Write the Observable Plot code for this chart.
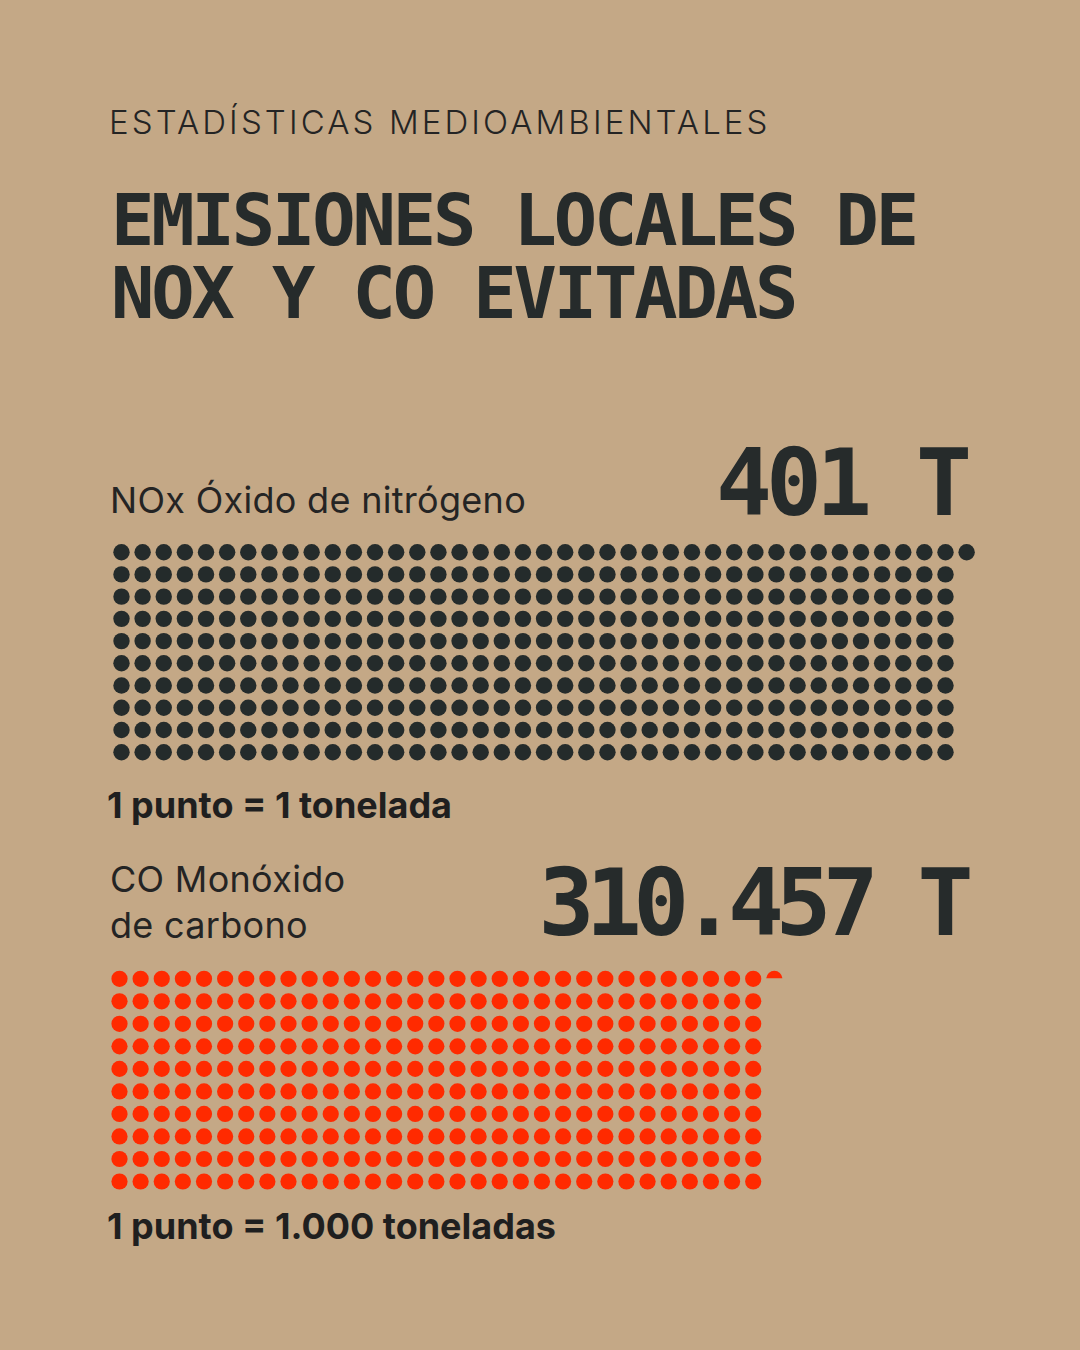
<!DOCTYPE html>
<html>
<head>
<meta charset="utf-8">
<script src="https://cdn.jsdelivr.net/npm/d3@7"></script>
<script src="https://cdn.jsdelivr.net/npm/@observablehq/plot@0.6"></script>
<style>
  html, body { margin: 0; padding: 0; }
  body { width: 1080px; height: 1350px; background: #c4a886; position: relative; overflow: hidden; }
  .abs { position: absolute; white-space: nowrap; color: #242424; }
  .kicker { font-family: Inter, "Open Sans", sans-serif; font-weight: 300; font-size: 33px; line-height: 33px; letter-spacing: 3.1px; }
  .title { font-family: "DejaVu Sans Mono", monospace; font-weight: 700; font-size: 72px; line-height: 73px; letter-spacing: -3.1px; color: #262b2b; }
  .label { font-family: Inter, "Open Sans", sans-serif; font-weight: 400; font-size: 36px; line-height: 46px; letter-spacing: 0.3px; }
  .big { font-family: "DejaVu Sans Mono", monospace; font-weight: 700; font-size: 93px; line-height: 93px; color: #262b2b; text-align: right; }
  .unit { font-family: Inter, "Open Sans", sans-serif; font-weight: 700; font-size: 36px; line-height: 36px; letter-spacing: 0px; color: #1f1f1f; }
  .plot { position: absolute; left: 0; }
</style>
</head>
<body>
<script>
// ---- Data ----
const kicker = "ESTADÍSTICAS MEDIOAMBIENTALES";
const titleLines = ["EMISIONES LOCALES DE", "NOX Y CO EVITADAS"];
const categories = ["NOx Óxido de nitrógeno", "CO Monóxido\nde carbono"];
const valueLabels = ["401 T", "310.457 T"];
const tonnes = [401, 310457];
const tonnesPerDot = [1, 1000];
const unitLabels = ["1 punto = 1 tonelada", "1 punto = 1.000 toneladas"];
const gridColumns = [40, 31];
const gridRows = [10, 10];
const dotColors = ["#242b2b", "#ff2a00"];

// ---- Layout (page positions) ----
const layout = [
  { labelTop: 477, bigTop: 437, bigRight: 114, bigSpacing: -6, unitTop: 787, plotTop: 530, plotH: 240,
    xRange: [121, 945], yRange: [21.7, 221.7], r: 8.2 },
  { labelTop: 856, bigTop: 857, bigRight: 115, bigSpacing: -8.6, unitTop: 1208, plotTop: 955, plotH: 245,
    xRange: [119, 752.7], yRange: [23.3, 226], r: 8.1 }
];

function addDiv(cls, text, css) {
  const d = document.createElement("div");
  d.className = "abs " + cls;
  d.textContent = text;
  Object.assign(d.style, css);
  document.body.appendChild(d);
  return d;
}

addDiv("kicker", kicker, { left: "109px", top: "106px" });
const titleDiv = addDiv("title", "", { left: "111px", top: "184px" });
titleDiv.innerHTML = titleLines.join("<br>");

// partial-dot symbol: top circular segment holding fraction f of the disc area
function segmentSymbol(f) {
  return {
    draw(context, size) {
      const r = Math.sqrt(size / Math.PI);
      const target = f * Math.PI * r * r;
      let lo = 0, hi = 2 * r;
      for (let k = 0; k < 60; k++) {
        const h = (lo + hi) / 2;
        const a = r * r * Math.acos((r - h) / r) - (r - h) * Math.sqrt(Math.max(0, 2 * r * h - h * h));
        if (a < target) lo = h; else hi = h;
      }
      const c = (lo + hi) / 2 - r;
      const a1 = Math.asin(Math.max(-1, Math.min(1, c / r)));
      context.moveTo(r * Math.cos(Math.PI - a1), r * Math.sin(Math.PI - a1));
      context.arc(0, 0, r, Math.PI - a1, 2 * Math.PI + a1, false);
      context.closePath();
    }
  };
}

categories.forEach((cat, s) => {
  const L = layout[s];
  const lbl = addDiv("label", "", { left: "110px", top: L.labelTop + "px" });
  lbl.innerHTML = cat.split("\n").join("<br>");
  addDiv("big", valueLabels[s], { right: L.bigRight + "px", top: L.bigTop + "px", letterSpacing: L.bigSpacing + "px" });
  addDiv("unit", unitLabels[s], { left: "107px", top: L.unitTop + "px" });

  const nDots = tonnes[s] / tonnesPerDot[s];
  const whole = Math.floor(nDots);
  const frac = nDots - whole;
  const cols = gridColumns[s], rows = gridRows[s];
  const dots = [];
  for (let i = 0; i < whole; i++) {
    if (i < cols * rows) dots.push({ col: i % cols, row: Math.floor(i / cols) });
    else dots.push({ col: cols + (i - cols * rows), row: 0 });
  }
  const nextCol = whole < cols * rows ? whole % cols : cols + (whole - cols * rows);
  const nextRow = whole < cols * rows ? Math.floor(whole / cols) : 0;
  const partial = frac > 0.001 ? [{ col: nextCol, row: nextRow, frac }] : [];

  const chart = Plot.plot({
    width: 1080,
    height: L.plotH,
    margin: 0,
    style: { background: "transparent", overflow: "visible" },
    x: { type: "linear", domain: [0, cols - 1], range: L.xRange, axis: null },
    y: { type: "linear", domain: [0, rows - 1], range: L.yRange, axis: null },
    marks: [
      Plot.dot(dots, { x: "col", y: "row", r: L.r, fill: dotColors[s], stroke: "none" }),
      ...partial.map(p => Plot.dot([p], { x: "col", y: "row", r: L.r, fill: dotColors[s], stroke: "none", symbol: segmentSymbol(p.frac) }))
    ]
  });
  chart.classList.add("plot");
  chart.style.top = L.plotTop + "px";
  chart.style.position = "absolute";
  document.body.appendChild(chart);
});
</script>
</body>
</html>
